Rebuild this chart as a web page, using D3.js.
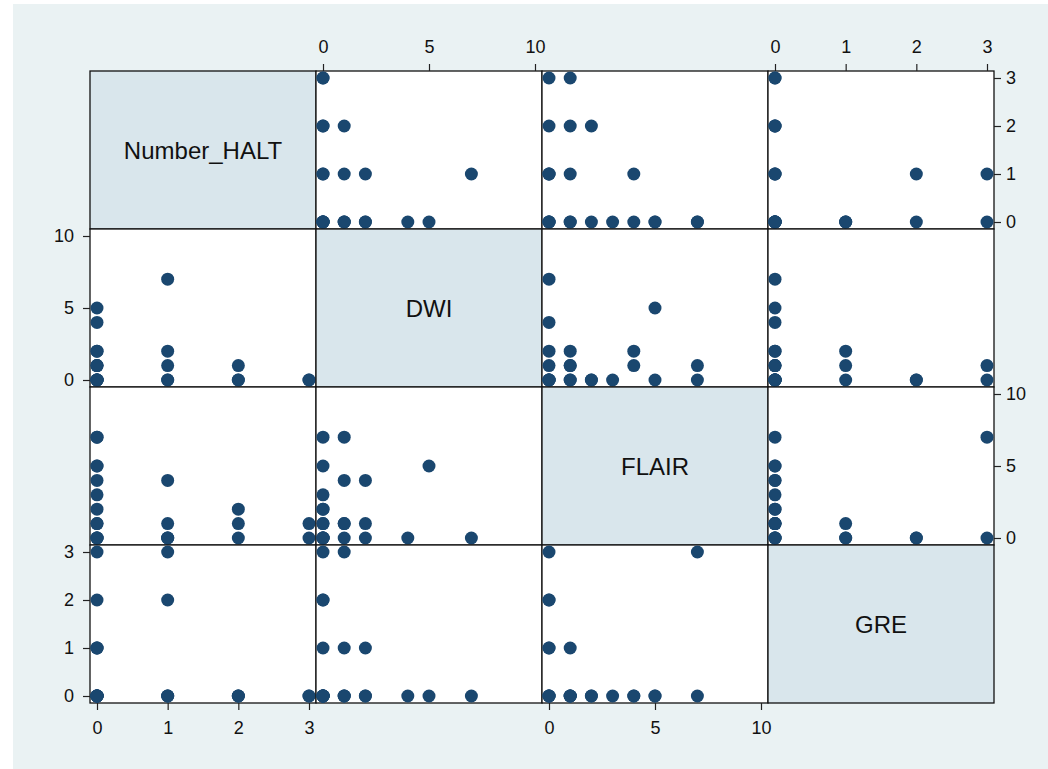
<!DOCTYPE html>
<html>
<head>
<meta charset="utf-8">
<script src="https://cdn.jsdelivr.net/npm/d3@7.9.0/dist/d3.min.js"></script>
<style>
  body { margin: 0; background: #fff; }
  svg { display: block; font-family: Arial, 'Liberation Sans', sans-serif; }
</style>
</head>
<body>
<svg id="chart" width="1048" height="769"></svg>
<script>
// variable names and observations (one entry per observation)
const varNames = ['Number_HALT', 'DWI', 'FLAIR', 'GRE'];
const halt  = [1, 0, 0, 3, 3, 2, 2, 2, 1, 1, 0, 1, 1, 0, 0, 0, 0, 0, 0, 0, 0, 0, 0];
const dwi   = [7, 5, 4, 0, 0, 0, 1, 0, 0, 1, 0, 2, 0, 0, 1, 2, 0, 0, 0, 1, 1, 2, 0];
const flair = [0, 5, 0, 0, 1, 2, 1, 0, 0, 0, 7, 4, 1, 0, 1, 0, 0, 3, 5, 4, 7, 1, 2];
const gre   = [0, 0, 0, 0, 0, 0, 0, 0, 2, 3, 3, 0, 0, 1, 1, 1, 2, 0, 0, 0, 0, 0, 0];
const domains = [[0, 3], [0, 10], [0, 10], [0, 3]];
const tickVals = [[0, 1, 2, 3], [0, 5, 10], [0, 5, 10], [0, 1, 2, 3]];

const columns = [halt, dwi, flair, gre];

const svg = d3.select('#chart');
svg.append('rect').attr('x', 13).attr('y', 4).attr('width', 1035).attr('height', 765)
  .attr('fill', '#eaf2f3');

const gridLeft = 90, gridTop = 71, cellW = 226, cellH = 158, pad = 7;
const n = varNames.length;

const xScales = domains.map((d, j) =>
  d3.scaleLinear().domain(d).range([gridLeft + j * cellW + pad, gridLeft + (j + 1) * cellW - pad]));
const yScales = domains.map((d, i) =>
  d3.scaleLinear().domain(d).range([gridTop + (i + 1) * cellH - pad, gridTop + i * cellH + pad]));

for (let i = 0; i < n; i++) {
  for (let j = 0; j < n; j++) {
    const g = svg.append('g');
    const x0 = gridLeft + j * cellW, y0 = gridTop + i * cellH;
    g.append('rect').attr('x', x0).attr('y', y0).attr('width', cellW).attr('height', cellH)
      .attr('fill', i === j ? '#d9e6ec' : '#ffffff')
      .attr('stroke', '#111').attr('stroke-width', 1.3);
    if (i === j) {
      g.append('text').attr('x', x0 + cellW / 2).attr('y', y0 + cellH / 2)
        .attr('text-anchor', 'middle').attr('dominant-baseline', 'central')
        .attr('font-size', 24).attr('fill', '#111').text(varNames[i]);
      continue;
    }
    const xs = columns[j], ys = columns[i];
    g.selectAll('circle').data(xs.map((v, k) => [v, ys[k]])).join('circle')
      .attr('cx', d => xScales[j](d[0]))
      .attr('cy', d => yScales[i](d[1]))
      .attr('r', 6.5)
      .attr('fill', '#1a476f');
  }
}

function styleAxis(g) {
  g.select('.domain').remove();
  g.selectAll('.tick line').attr('stroke', '#222').attr('stroke-width', 1.2);
  g.selectAll('.tick text').attr('font-size', 18).attr('fill', '#111');
}

// alternating axes, like a Stata graph matrix
for (let j = 0; j < n; j++) {
  const onTop = j % 2 === 1;
  const axis = (onTop ? d3.axisTop(xScales[j]) : d3.axisBottom(xScales[j]))
    .tickValues(tickVals[j]).tickSize(7).tickPadding(11).tickFormat(d3.format('d'));
  svg.append('g')
    .attr('transform', `translate(0,${onTop ? gridTop : gridTop + n * cellH})`)
    .call(axis).call(styleAxis);
}
for (let i = 0; i < n; i++) {
  const onRight = i % 2 === 0;
  const axis = (onRight ? d3.axisRight(yScales[i]) : d3.axisLeft(yScales[i]))
    .tickValues(tickVals[i]).tickSize(7).tickPadding(onRight ? 5 : 9).tickFormat(d3.format('d'));
  svg.append('g')
    .attr('transform', `translate(${onRight ? gridLeft + n * cellW : gridLeft},0)`)
    .call(axis).call(styleAxis);
}
</script>
</body>
</html>
